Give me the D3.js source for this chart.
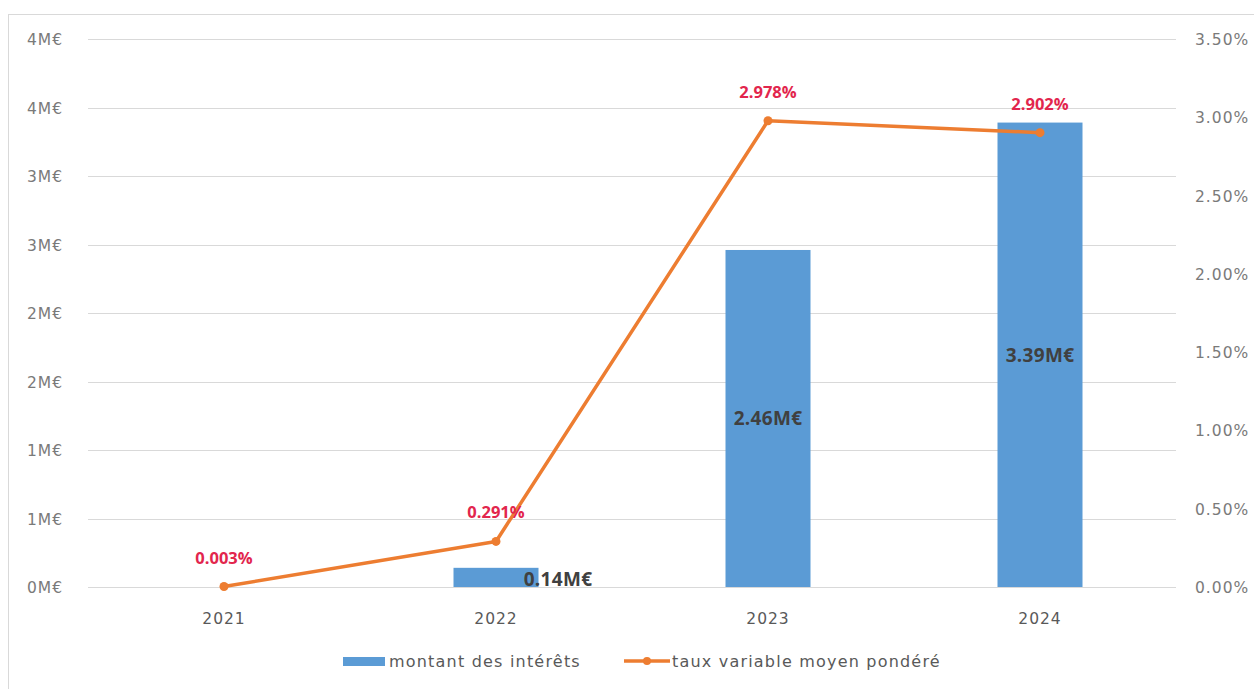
<!DOCTYPE html>
<html><head><meta charset="utf-8">
<script src="https://cdn.jsdelivr.net/npm/d3@7"></script>
<style>body{margin:0;background:#fff;} text{font-family:"DejaVu Sans","Open Sans",sans-serif;} .b{font-family:"Open Sans","DejaVu Sans",sans-serif;}</style>
</head><body><svg id="c" width="1254" height="689"></svg>
<script>
const categories = ["2021","2022","2023","2024"];
const montants = [0, 0.14, 2.46, 3.39];          // M€
const montantLabels = ["", "0.14M€", "2.46M€", "3.39M€"];
const taux = [0.003, 0.291, 2.978, 2.902];        // %
const leftTicks = [0,0.5,1,1.5,2,2.5,3,3.5,4];
const leftTickLabels = ["0M€","1M€","1M€","2M€","2M€","3M€","3M€","4M€","4M€"];
const rightTicks = [0,0.5,1,1.5,2,2.5,3,3.5];
const rightTickLabels = ["0.00%","0.50%","1.00%","1.50%","2.00%","2.50%","3.00%","3.50%"];
const seriesNames = ["montant des intérêts","taux variable moyen pondéré"];

const svg = d3.select("#c");
const L = 88, R = 1176, T = 39, B = 587;
const x = d3.scaleBand().domain(categories).range([L,R]);
const yL = d3.scaleLinear().domain([0,4]).range([B,T]);
const yR = d3.scaleLinear().domain([0,3.5]).range([B,T]);

// frame
svg.append("rect").attr("x",8.5).attr("y",14.5).attr("width",1260).attr("height",690)
  .attr("fill","none").attr("stroke","#d9d9d9");

// gridlines
svg.append("g").selectAll("line").data(leftTicks).join("line")
  .attr("x1",L).attr("x2",R).attr("y1",d=>Math.round(yL(d))+0.5).attr("y2",d=>Math.round(yL(d))+0.5)
  .attr("stroke","#d9d9d9").attr("stroke-width",1);

const tickStyle = sel => sel.attr("font-size",15.5).attr("letter-spacing",1).attr("fill","#7a7a7a");
// left axis labels
svg.append("g").selectAll("text").data(leftTicks).join("text")
  .attr("x",27).attr("y",d=>yL(d)+6).call(tickStyle)
  .text((d,i)=>leftTickLabels[i]);
// right axis labels
svg.append("g").selectAll("text").data(rightTicks).join("text")
  .attr("x",1195).attr("y",d=>yR(d)+6).call(tickStyle)
  .text((d,i)=>rightTickLabels[i]);
// x labels
svg.append("g").selectAll("text").data(categories).join("text")
  .attr("x",d=>x(d)+x.bandwidth()/2).attr("y",B+37).attr("text-anchor","middle")
  .call(tickStyle).attr("fill","#595959").text(d=>d);

// bars
const bw = 85;
svg.append("g").selectAll("rect").data(montants).join("rect")
  .attr("x",(d,i)=>x(categories[i])+x.bandwidth()/2-bw/2).attr("width",bw)
  .attr("y",d=>yL(d)).attr("height",d=>B-yL(d)).attr("fill","#5b9bd5");

// bar labels
const labelDx = [0, 62, 0, 0];
svg.append("g").selectAll("text").data(montants).join("text").attr("class","b")
  .attr("x",(d,i)=>x(categories[i])+x.bandwidth()/2+labelDx[i])
  .attr("y",(d,i)=> i===1 ? B-1 : (yL(d)+B)/2+7)
  .attr("text-anchor","middle").attr("font-size",19).attr("font-weight","bold").attr("letter-spacing",0.3)
  .attr("fill","#404040").text((d,i)=>montantLabels[i]);

// line
const line = d3.line().x((d,i)=>x(categories[i])+x.bandwidth()/2).y(d=>yR(d));
svg.append("path").datum(taux).attr("d",line).attr("fill","none")
  .attr("stroke","#ed7d31").attr("stroke-width",3.5).attr("stroke-linejoin","round");
svg.append("g").selectAll("circle").data(taux).join("circle")
  .attr("cx",(d,i)=>x(categories[i])+x.bandwidth()/2).attr("cy",d=>yR(d)).attr("r",4.5)
  .attr("fill","#ed7d31");
svg.append("g").selectAll("text").data(taux).join("text").attr("class","b")
  .attr("x",(d,i)=>x(categories[i])+x.bandwidth()/2).attr("y",d=>yR(d)-23)
  .attr("text-anchor","middle").attr("font-size",16.5).attr("font-weight","bold")
  .attr("fill","#e2264d").text(d=>d.toFixed(3)+"%");

// legend
const lg = svg.append("g");
lg.append("rect").attr("x",343).attr("y",657).attr("width",42).attr("height",9).attr("fill","#5b9bd5");
lg.append("text").attr("x",389).attr("y",667).attr("font-size",16).attr("letter-spacing",1.2).attr("fill","#595959").text(seriesNames[0]);
lg.append("line").attr("x1",624).attr("x2",670).attr("y1",661).attr("y2",661).attr("stroke","#ed7d31").attr("stroke-width",3.5);
lg.append("circle").attr("cx",647).attr("cy",661).attr("r",4).attr("fill","#ed7d31");
lg.append("text").attr("x",672).attr("y",667).attr("font-size",16).attr("letter-spacing",1.2).attr("fill","#595959").text(seriesNames[1]);
</script></body></html>
